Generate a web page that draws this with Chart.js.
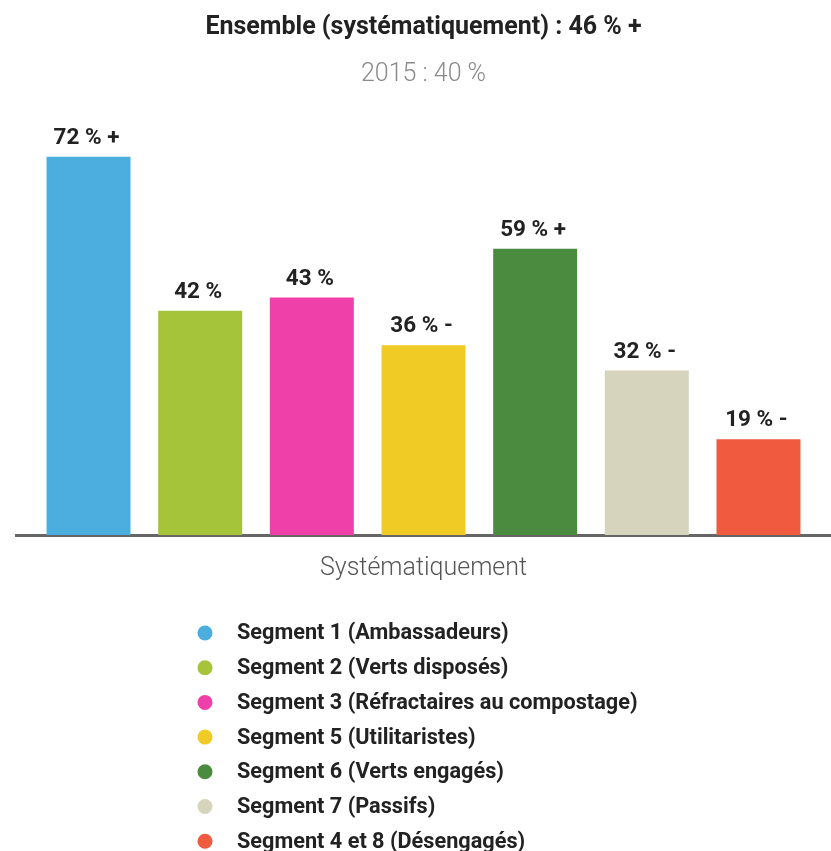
<!DOCTYPE html>
<html>
<head>
<meta charset="utf-8">
<script src="https://cdn.jsdelivr.net/npm/chart.js@4/dist/chart.umd.min.js"></script>
<style>
  html, body { margin: 0; padding: 0; background: #fff; }
  #wrap { width: 831px; height: 851px; position: relative; }
</style>
</head>
<body>
<div id="wrap"><canvas id="c" width="831" height="851"></canvas></div>
<script>
// ---- data ----
const categories = ["Systématiquement"];
const segmentNames = [
  "Segment 1 (Ambassadeurs)",
  "Segment 2 (Verts disposés)",
  "Segment 3 (Réfractaires au compostage)",
  "Segment 5 (Utilitaristes)",
  "Segment 6 (Verts engagés)",
  "Segment 7 (Passifs)",
  "Segment 4 et 8 (Désengagés)"
];
// bar heights as drawn in the picture
const barValues = [72, 42.7, 45.2, 36.1, 54.5, 31.3, 18.2];
// value labels printed above each bar
const valueLabels = ["72 % +", "42 %", "43 %", "36 % -", "59 % +", "32 % -", "19 % -"];
const segmentColors = ["#4BAEDF", "#A6C43A", "#EF3FA8", "#F1CB25", "#4A8B3F", "#D6D4BD", "#F05A3E"];
const titleText = "Ensemble (systématiquement) : 46 % +";
const subtitleText = "2015 : 40 %";

const FONT = "Roboto, 'Open Sans', sans-serif";

const datasets = segmentNames.map((name, i) => ({
  label: name,
  data: [barValues[i]],
  backgroundColor: segmentColors[i],
  borderWidth: 0,
  valueLabel: valueLabels[i]
}));

const valueLabelPlugin = {
  id: 'valueLabels',
  afterDatasetsDraw(chart) {
    const ctx = chart.ctx;
    ctx.save();
    ctx.font = "bold 22.5px " + FONT;
    ctx.fillStyle = "#222";
    ctx.textAlign = "center";
    ctx.textBaseline = "alphabetic";
    chart.data.datasets.forEach((ds, i) => {
      const meta = chart.getDatasetMeta(i);
      meta.data.forEach((bar) => {
        ctx.fillText(ds.valueLabel, bar.x - 2, bar.y - 13);
      });
    });
    ctx.restore();
  }
};

const customLegendPlugin = {
  id: 'customLegend',
  afterDraw(chart) {
    const ctx = chart.ctx;
    ctx.save();
    ctx.font = "bold 21.7px " + FONT;
    ctx.textBaseline = "middle";
    ctx.textAlign = "left";
    const x0 = 205, xText = 237, y0 = 633, step = 34.7;
    chart.data.datasets.forEach((ds, i) => {
      const y = y0 + i * step;
      ctx.beginPath();
      ctx.arc(x0, y, 7.5, 0, Math.PI * 2);
      ctx.fillStyle = ds.backgroundColor;
      ctx.fill();
      ctx.fillStyle = "#222";
      ctx.fillText(ds.label, xText, y + 1);
    });
    ctx.restore();
  }
};

new Chart(document.getElementById('c'), {
  type: 'bar',
  data: { labels: categories, datasets: datasets },
  options: {
    responsive: false,
    animation: false,
    devicePixelRatio: 1,
    layout: { padding: { left: 16, right: 0, top: 0, bottom: 248 } },
    datasets: { bar: { categoryPercentage: 0.959, barPercentage: 0.752 } },
    plugins: {
      legend: { display: false },
      tooltip: { enabled: false },
      title: {
        display: true,
        text: titleText,
        color: "#222",
        font: { family: FONT, size: 25, weight: 'bold' },
        padding: { top: 12.4, bottom: 17.6 }
      },
      subtitle: {
        display: true,
        text: subtitleText,
        color: "#8a8a8a",
        font: { family: FONT, size: 25, weight: '300' },
        padding: { top: 0, bottom: 11 }
      }
    },
    scales: {
      x: {
        grid: { display: false, drawTicks: false },
        border: { display: true, color: "#666", width: 3 },
        ticks: {
          color: "#555",
          padding: 19,
          font: { family: FONT, size: 25, weight: '300' }
        }
      },
      y: {
        display: false,
        min: 0,
        max: 82.6
      }
    }
  },
  plugins: [valueLabelPlugin, customLegendPlugin]
});
</script>
</body>
</html>
